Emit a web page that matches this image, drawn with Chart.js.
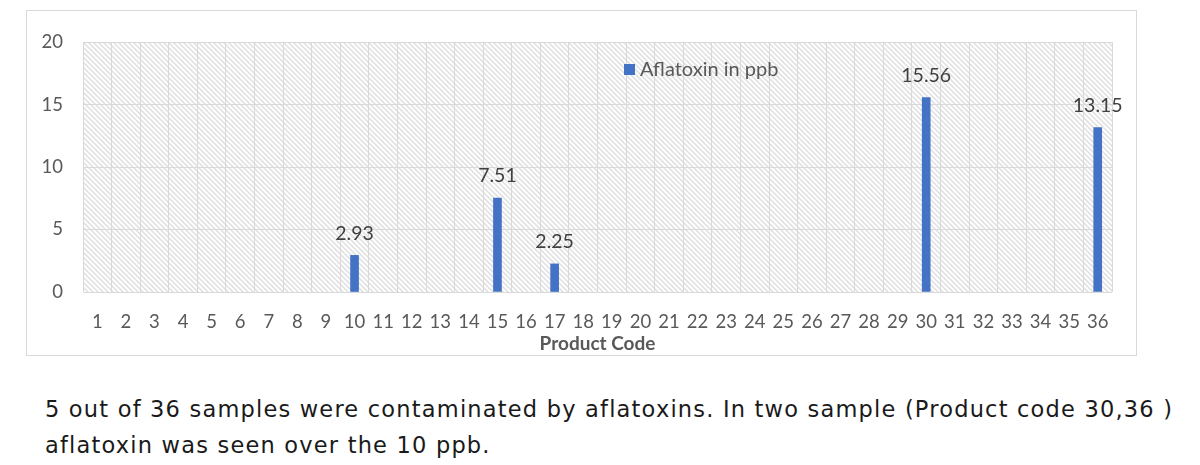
<!DOCTYPE html>
<html>
<head>
<meta charset="utf-8">
<script src="https://cdn.jsdelivr.net/npm/chart.js@4.4.1/dist/chart.umd.min.js"></script>
<style>
  html, body { margin: 0; padding: 0; background: #ffffff; }
  body { width: 1200px; height: 465px; position: relative; overflow: hidden; }
  #box { position: absolute; left: 26px; top: 10px; width: 1111px; height: 346px; border: 1px solid #d9d9d9; box-sizing: border-box; }
  #box canvas { position: absolute; left: 0; top: 0; }
  #note { position: absolute; left: 45px; top: 391px; font-family: "DejaVu Sans", sans-serif; font-size: 22.5px; line-height: 36px; color: #1a1a1a; letter-spacing: 1.2px; white-space: nowrap; }
</style>
</head>
<body>
<div id="box"><canvas id="c" width="1109" height="344"></canvas></div>
<div id="note">5 out of 36 samples were contaminated by aflatoxins. In two sample (Product code 30,36 )<br>aflatoxin was seen over the 10 ppb.</div>
<script>
const productCodes = ["1","2","3","4","5","6","7","8","9","10","11","12","13","14","15","16","17","18","19","20","21","22","23","24","25","26","27","28","29","30","31","32","33","34","35","36"];
const aflatoxinPpb = [null,null,null,null,null,null,null,null,null,2.93,null,null,null,null,7.51,null,2.25,null,null,null,null,null,null,null,null,null,null,null,null,15.56,null,null,null,null,null,13.15];
const seriesLabel = "Aflatoxin in ppb";
const xTitle = "Product Code";
const yTicks = [0, 5, 10, 15, 20];

function makePattern() {
  const s = 5;
  const p = document.createElement('canvas');
  p.width = s; p.height = s;
  const g = p.getContext('2d');
  g.fillStyle = '#ffffff';
  g.fillRect(0, 0, s, s);
  g.strokeStyle = '#e2e2e2';
  g.lineWidth = 1.6;
  g.beginPath();
  g.moveTo(-1, -1); g.lineTo(s + 1, s + 1);
  g.moveTo(-1, s - 1); g.lineTo(1, s + 1);
  g.moveTo(s - 1, -1); g.lineTo(s + 1, 1);
  g.stroke();
  return g.createPattern(p, 'repeat');
}

const hatchPlugin = {
  id: 'hatch',
  beforeDraw(chart) {
    const a = chart.chartArea, ctx = chart.ctx;
    ctx.save();
    ctx.fillStyle = makePattern();
    ctx.fillRect(a.left, a.top, a.right - a.left, a.bottom - a.top);
    ctx.restore();
  }
};

const labelPlugin = {
  id: 'vals',
  afterDatasetsDraw(chart) {
    const ctx = chart.ctx;
    const meta = chart.getDatasetMeta(0);
    ctx.save();
    ctx.font = '19.5px Lato, sans-serif';
    ctx.fillStyle = '#404040';
    ctx.textAlign = 'center';
    ctx.textBaseline = 'middle';
    meta.data.forEach((el, i) => {
      const v = chart.data.datasets[0].data[i];
      if (v != null) ctx.fillText(v.toFixed(2), el.x, el.y - 22);
    });
    ctx.restore();
  }
};

const legendPlugin = {
  id: 'legendIn',
  afterDraw(chart) {
    const ctx = chart.ctx;
    ctx.save();
    ctx.fillStyle = '#4472C4';
    ctx.fillRect(597, 53, 11, 11);
    ctx.font = '20px Lato, sans-serif';
    ctx.fillStyle = '#595959';
    ctx.textAlign = 'left';
    ctx.textBaseline = 'middle';
    ctx.fillText(chart.data.datasets[0].label, 613, 59);
    ctx.restore();
  }
};

new Chart(document.getElementById('c'), {
  type: 'bar',
  data: {
    labels: productCodes,
    datasets: [{
      label: seriesLabel,
      data: aflatoxinPpb,
      backgroundColor: '#4472C4',
      barThickness: 8
    }]
  },
  options: {
    responsive: false,
    animation: false,
    events: [],
    layout: { padding: { top: 27, right: 24, left: 0, bottom: 0 } },
    plugins: { legend: { display: false }, tooltip: { enabled: false } },
    scales: {
      x: {
        grid: { color: '#d9d9d9', lineWidth: 1, drawTicks: false, offset: true },
        border: { display: false },
        ticks: { color: '#595959', font: { family: 'Lato', size: 18.5 }, padding: 19, maxRotation: 0, autoSkip: false },
        title: { display: true, text: xTitle, color: '#595959', font: { family: 'Lato', size: 19, weight: 'bold' }, padding: { top: 0, bottom: 0 } },
        afterFit(s) { s.height = 63; }
      },
      y: {
        min: 0, max: 20,
        afterBuildTicks(s) { s.ticks = yTicks.map(v => ({ value: v })); },
        grid: { color: '#d9d9d9', lineWidth: 1, drawTicks: false },
        border: { display: false },
        ticks: { color: '#595959', font: { family: 'Lato', size: 18.5 }, padding: 20 },
        afterFit(s) { s.width = 56; }
      }
    }
  },
  plugins: [hatchPlugin, labelPlugin, legendPlugin]
});
</script>
</body>
</html>
